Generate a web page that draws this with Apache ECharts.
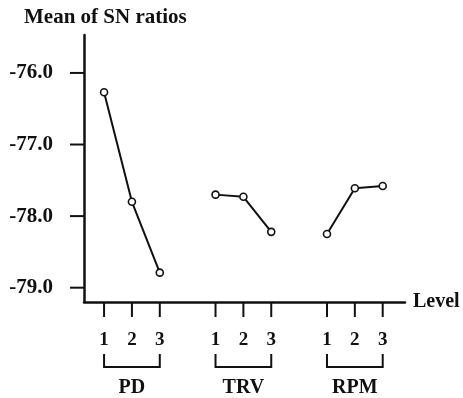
<!DOCTYPE html>
<html>
<head>
<meta charset="utf-8">
<script src="https://cdn.jsdelivr.net/npm/echarts@6/dist/echarts.min.js"></script>
<style>
html,body{margin:0;padding:0;background:#fff;}
#chart{width:463px;height:398px;}
</style>
</head>
<body>
<div id="chart"></div>
<script>
// ---- data ----
const groups = ['PD', 'TRV', 'RPM'];
const levels = ['1', '2', '3'];
const pdValues = [-76.27, -77.80, -78.79];
const trvValues = [-77.70, -77.73, -78.22];
const rpmValues = [-78.25, -77.61, -77.58];
const yTickValues = [-76, -77, -78, -79];
const yAxisTitle = 'Mean of SN ratios';
const xAxisTitle = 'Level';

// ---- build ----
const seriesValues = [pdValues, trvValues, rpmValues];
const slot = 4; // 3 levels + 1 gap
const xPos = (g, l) => g * slot + l + 1;
const xTickValues = [];
groups.forEach((g, gi) => levels.forEach((l, li) => xTickValues.push(xPos(gi, li))));
const groupCenters = groups.map((g, gi) => xPos(gi, 1));
const font = "'Liberation Serif', 'Times New Roman', serif";
const ink = '#111';
const xMin = 0.28, xMax = 11.8, yMin = -79.2, yMax = -75.47;

const lineSeries = groups.map((g, gi) => ({
  type: 'line',
  name: g,
  data: seriesValues[gi].map((v, li) => [xPos(gi, li), v]),
  symbol: 'circle',
  symbolSize: 7,
  clip: false,
  lineStyle: { color: ink, width: 2 },
  itemStyle: { color: '#fff', borderColor: ink, borderWidth: 1.6 },
  z: 3
}));

const bracketSeries = {
  type: 'custom',
  name: 'brackets',
  clip: false,
  silent: true,
  coordinateSystem: 'cartesian2d',
  data: groups.map((g, gi) => [xPos(gi, 0), xPos(gi, levels.length - 1), yMin]),
  encode: { x: [0, 1], y: 2 },
  renderItem: function (params, api) {
    const a = api.coord([api.value(0), api.value(2)]);
    const b = api.coord([api.value(1), api.value(2)]);
    const y0 = a[1];
    return {
      type: 'polyline',
      shape: { points: [[a[0], y0 + 52], [a[0], y0 + 65], [b[0], y0 + 65], [b[0], y0 + 52]] },
      style: { stroke: ink, lineWidth: 2, fill: null }
    };
  }
};

const chart = echarts.init(document.getElementById('chart'), null, { renderer: 'canvas' });
chart.setOption({
  backgroundColor: '#fff',
  animation: false,
  title: {
    text: yAxisTitle,
    left: 19,
    top: 2,
    textStyle: { fontFamily: font, fontWeight: 'bold', fontSize: 21, color: ink }
  },
  grid: { left: 84, right: 58, top: 35, bottom: 96, containLabel: false },
  xAxis: [{
    type: 'value',
    min: xMin,
    max: xMax,
    name: xAxisTitle,
    nameLocation: 'end',
    nameGap: 8,
    nameTextStyle: { fontFamily: font, fontWeight: 'bold', fontSize: 20, color: ink },
    axisLine: { onZero: false, lineStyle: { color: ink, width: 2.5 } },
    axisTick: { show: false },
    axisLabel: {
      customValues: xTickValues,
      margin: 29,
      fontFamily: font, fontWeight: 'bold', fontSize: 19, color: ink,
      formatter: v => levels[(Math.round(v) - 1) % slot]
    },
    splitLine: { show: false }
  }, {
    type: 'value',
    position: 'bottom',
    min: xMin,
    max: xMax,
    axisLine: { show: false },
    axisTick: { show: false },
    axisLabel: {
      customValues: groupCenters,
      margin: 76,
      fontFamily: font, fontWeight: 'bold', fontSize: 20, color: ink,
      formatter: v => groups[Math.round((v - 2) / slot)]
    },
    splitLine: { show: false }
  }],
  yAxis: {
    type: 'value',
    min: yMin,
    max: yMax,
    axisLine: { show: true, onZero: false, lineStyle: { color: ink, width: 2.5 } },
    axisTick: { show: false },
    axisLabel: {
      customValues: yTickValues,
      margin: 31,
      fontFamily: font, fontWeight: 'bold', fontSize: 21, color: ink,
      formatter: v => v.toFixed(1)
    },
    splitLine: { show: false }
  },
  series: lineSeries.concat([bracketSeries])
});

// axis tick marks, positioned through the axis scales
const tickGraphics = [];
xTickValues.forEach(v => {
  const p = chart.convertToPixel({ xAxisIndex: 0, yAxisIndex: 0 }, [v, yMin]);
  tickGraphics.push({
    type: 'rect', z: 100, silent: true,
    shape: { x: p[0] - 1, y: p[1], width: 2, height: 15 },
    style: { fill: ink }
  });
});
yTickValues.forEach(v => {
  const p = chart.convertToPixel({ xAxisIndex: 0, yAxisIndex: 0 }, [xMin, v]);
  tickGraphics.push({
    type: 'rect', z: 100, silent: true,
    shape: { x: p[0] - 14, y: p[1] - 1, width: 14, height: 2 },
    style: { fill: ink }
  });
});
chart.setOption({ graphic: tickGraphics });
</script>
</body>
</html>
